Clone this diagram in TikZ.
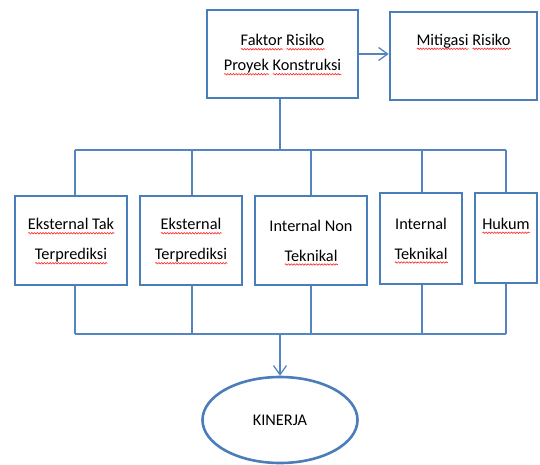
\documentclass[tikz,border=0pt]{standalone}
\usepackage{fontspec}
\setmainfont{Carlito}
\usetikzlibrary{shapes.geometric,arrows.meta,decorations.pathmorphing}
\definecolor{boxblue}{HTML}{4A7EBB}
\definecolor{lineblue}{HTML}{5585C0}
\newdimen\sqw
\newcommand\sq[1]{\setbox0=\hbox{#1}\sqw=\wd0\relax\leavevmode\rlap{\smash{\raisebox{-3.4pt}{\tikz[x=1pt,y=1pt,baseline=0pt]\draw[draw=red!85!white, line width=0.6pt, decorate, decoration={snake, amplitude=0.75pt, segment length=2.8pt}] (0,0) -- (\sqw,0);}}}\box0\relax}
\begin{document}
\begin{tikzpicture}[x=1pt,y=-1pt,
  box/.style={draw=boxblue, line width=2.6pt, fill=white, rectangle, inner sep=0pt,
    align=center, font=\fontsize{16.3}{30}\selectfont},
  conn/.style={draw=lineblue, line width=1.3pt},
  arr/.style={conn, -{Straight Barb[length=9pt,width=13pt,line width=1.3pt]}}]
\useasboundingbox (0,0) rectangle (540,465);
\node[box, minimum width=151pt, minimum height=88pt, font=\fontsize{16.3}{25}\selectfont] (top) at (282.5,54)
  {\sq{Faktor} \sq{Risiko}\\ \sq{Proyek} \sq{Konstruksi}};
\node[box, minimum width=147pt, minimum height=88pt, font=\fontsize{16.3}{25}\selectfont] (mit) at (463.5,56)
  {\sq{Mitigasi} \sq{Risiko}\\ \strut};
\node[box, minimum width=112pt, minimum height=89pt] (b1) at (71,240.5) {\sq{Eksternal Tak}\\ \sq{Terprediksi}};
\node[box, minimum width=102pt, minimum height=89pt] (b2) at (191,240.5) {\sq{Eksternal}\\ \sq{Terprediksi}};
\node[box, minimum width=112pt, minimum height=89pt] (b3) at (311,240.5) {Internal Non\\ \sq{Teknikal}};
\node[box, minimum width=82pt, minimum height=91pt] (b4) at (421,238.5) {Internal\\ \sq{Teknikal}};
\node[box, minimum width=62pt, minimum height=90pt, font=\fontsize{16.3}{22}\selectfont] (b5) at (506,238) {\sq{Hukum}\\ \strut};
\node[ellipse, draw=boxblue, line width=2.6pt, fill=white, minimum width=155pt, minimum height=86pt,
  inner sep=0pt, font=\fontsize{16.3}{30}\selectfont] (kin) at (280,420) {KINERJA};
% arrow to mitigasi
\draw[arr] (top.east) -- (top.east -| mit.west);
% top bus
\coordinate (tb) at (280,150);
\coordinate (d1) at (75,150);
\coordinate (d2) at (192,150);
\coordinate (d3) at (311,150);
\coordinate (d4) at (422,150);
\coordinate (d5) at (506,150);
\draw[conn] (top.south -| tb) -- (tb);
\draw[conn] (d1) -- (d5);
\coordinate (u1) at (75,334);
\coordinate (u2) at (192,334);
\coordinate (u3) at (311,334);
\coordinate (u4) at (422,334);
\coordinate (u5) at (506,334);
\coordinate (ub) at (280,334);
\foreach \i in {1,...,5}{
  \draw[conn] (d\i) -- (d\i |- b\i.north);
  \draw[conn] (b\i.south -| u\i) -- (u\i);
}
\draw[conn] (u1) -- (u5);
\draw[arr] (ub) -- (ub |- kin.north);
\end{tikzpicture}
\end{document}
